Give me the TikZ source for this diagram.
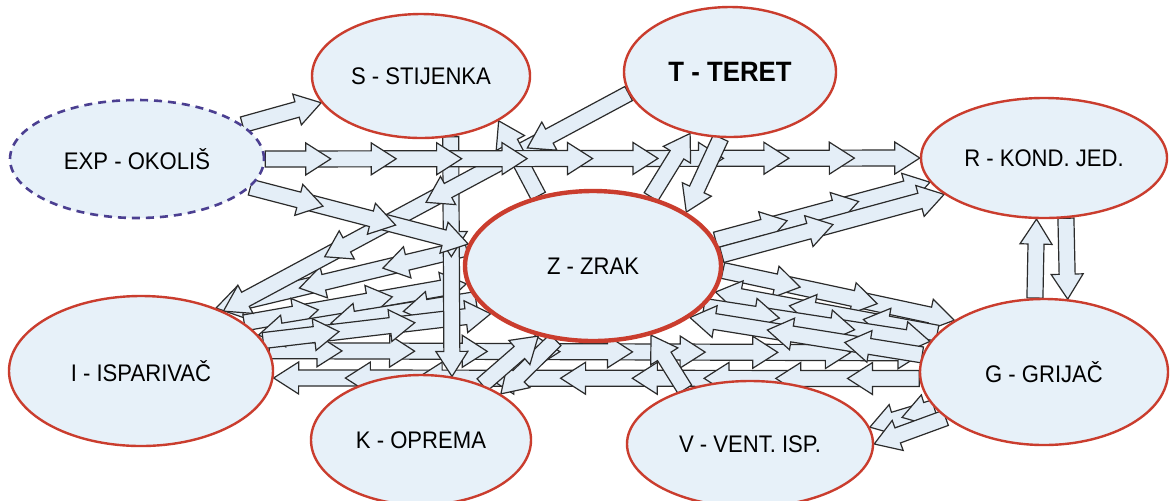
\documentclass[tikz,border=0pt]{standalone}
\usepackage{fontspec}
\setmainfont[FakeStretch=0.92]{Liberation Sans}
\usetikzlibrary{shapes.geometric}

\pgfdeclarelayer{back}
\pgfdeclarelayer{flows}
\pgfsetlayers{back,flows,main}

\definecolor{ellfill}{HTML}{E7F1F9}
\definecolor{ellred}{HTML}{CA3D2E}
\definecolor{expblue}{HTML}{4B3F91}
\definecolor{flowfill}{HTML}{E4EEF7}
\definecolor{flowline}{HTML}{2B2B2B}

% text of a state, kept from widening its ellipse
\newcommand\lbl[1]{\makebox[0pt]{#1}}

% hollow block arrow from #2 to #3, cut into #1 pieces, each with its own head
\newcommand\flow[3][1]{%
  \path (#2) coordinate (flA) (#3) coordinate (flB);%
  \pgfpointanchor{flA}{center}\pgfgetlastxy{\flax}{\flay}%
  \pgfpointanchor{flB}{center}\pgfgetlastxy{\flbx}{\flby}%
  \pgfmathsetmacro\flang{atan2(\flby-\flay,\flbx-\flax)}%
  \pgfmathsetmacro\flseg{veclen(\flbx-\flax,\flby-\flay)/#1}%
  \begin{pgfonlayer}{flows}
  \begin{scope}[shift={(\flax,\flay)}, rotate=\flang]
    \foreach \k in {#1,...,1}{%
      \ifnum\k=1 \def\flbeg{0}\else\pgfmathsetmacro\flbeg{(\k-1)*\flseg-12.5}\fi
      \pgfmathsetmacro\fltip{\k*\flseg}%
      \pgfmathsetmacro\flbase{\fltip-12.5}%
      \draw[flowarrow] (\flbeg pt,-4pt) -- (\flbase pt,-4pt) -- (\flbase pt,-8pt)
        -- (\fltip pt,0pt) -- (\flbase pt,8pt) -- (\flbase pt,4pt) -- (\flbeg pt,4pt) -- cycle;
    }
  \end{scope}
  \end{pgfonlayer}}

\tikzset{
  state/.style={ellipse, draw=ellred, line width=1.2pt, fill=ellfill, inner sep=0pt,
    font=\fontsize{12}{14}\selectfont},
  air/.style={state, line width=2.2pt},
  outside/.style={state, draw=expblue, dash pattern=on 4pt off 3pt, line width=1.3pt},
  cargo/.style={state, font=\fontsize{14}{16}\selectfont\bfseries},
  flowarrow/.style={draw=flowline, fill=flowfill, line width=0.6pt, line join=miter},
}

\begin{document}
\begin{tikzpicture}[x=0.5pt, y=-0.5pt]
  \useasboundingbox (0,0) rectangle (1171,500);
  \begin{pgfonlayer}{back}
    \fill[white] (0,0) rectangle (1171,500);
  \end{pgfonlayer}

  % states of the system
  \node[outside, minimum width=127pt, minimum height=59pt] (exp) at (137,159) {\lbl{EXP - OKOLIŠ}};
  \node[state, minimum width=109pt, minimum height=62pt] (s) at (421,76) {\lbl{S - STIJENKA}};
  \node[cargo, minimum width=106pt, minimum height=65pt] (t) at (730,72) {\lbl{T - TERET}};
  \node[state, minimum width=123pt, minimum height=60pt] (r) at (1044,158) {\lbl{R - KOND. JED.}};
  \node[air, minimum width=128pt, minimum height=75pt] (z) at (593,266) {\lbl{Z - ZRAK}};
  \node[state, minimum width=132pt, minimum height=75pt] (i) at (141,371) {\lbl{I - ISPARIVAČ}};
  \node[state, minimum width=124pt, minimum height=73pt] (g) at (1044,372) {\lbl{G - GRIJAČ}};
  \node[state, minimum width=110pt, minimum height=65pt] (k) at (421,440) {\lbl{K - OPREMA}};
  \node[state, minimum width=123pt, minimum height=63pt] (v) at (750,444) {\lbl{V - VENT. ISP.}};

  % heat flows between the states
  \flow[9]{i.9}{g.171}
  \flow[9]{g.183}{i.-3}
  \flow[3]{z.172}{i.40}
  \flow[3]{i.25}{z.188}
  \flow[3]{z.196}{i.17}
  \flow[3]{i.14}{z.205}
  \flow[2]{s.-64}{k.64}
  \flow[4]{t.192}{i.36}
  \flow[3]{exp.-14}{z.170}
  \flow[1]{z.128}{s.-30}
  \flow[10]{exp.0}{r.180}
  \flow[1]{exp.18}{s.195}
  \flow[1]{z.50}{t.237}
  \flow[1]{t.262}{z.30}
  \flow[3]{z.12}{r.192}
  \flow[2]{z.5}{r.200}
  \flow[1]{g.97}{r.263}
  \flow[1]{r.290}{g.72}
  \flow[3]{z.-2}{g.150}
  \flow[3]{g.160}{z.-12}
  \flow[3]{z.-20}{g.165}
  \flow[3]{g.172}{z.-28}
  \flow[1]{z.243}{k.30}
  \flow[1]{k.42}{z.232}
  \flow[1]{v.140}{z.310}
  \flow[2]{g.198}{v.8}
  \flow[1]{g.205}{v.0}
\end{tikzpicture}
\end{document}
